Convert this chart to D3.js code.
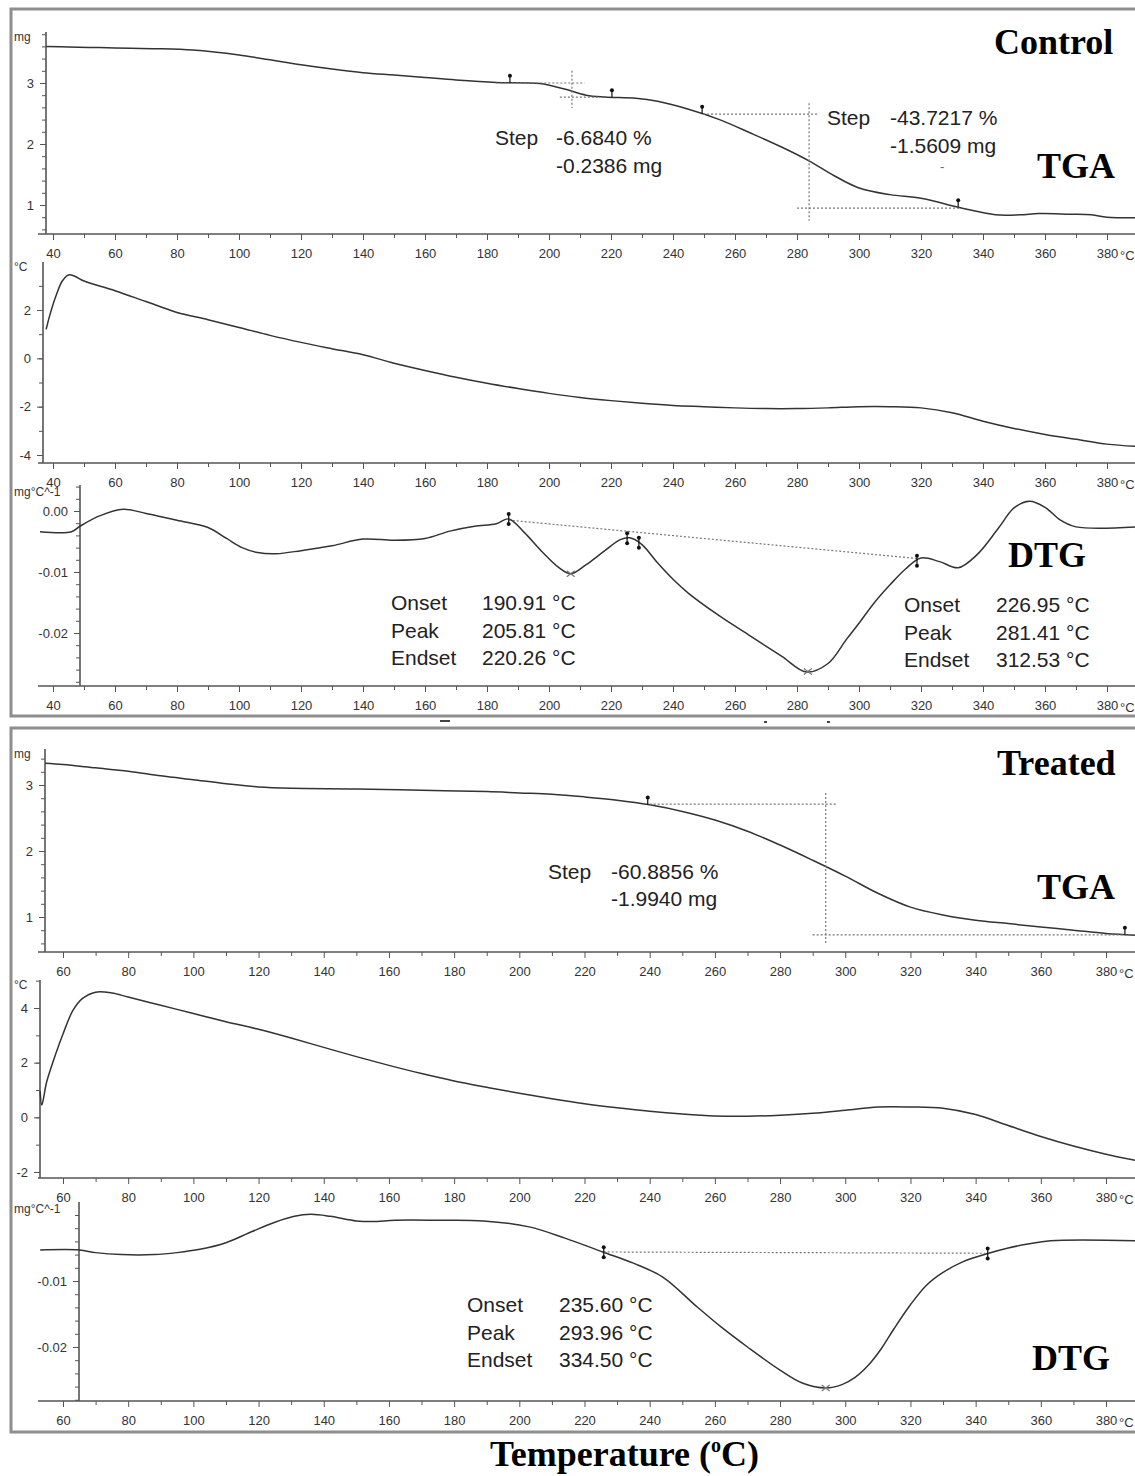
<!DOCTYPE html>
<html><head><meta charset="utf-8">
<script src="https://cdn.jsdelivr.net/npm/d3@7"></script>
<style>
body{margin:0;background:#fff}
.sans{font-family:Arial,"Liberation Sans",sans-serif}
.serif{font-family:"Liberation Serif","Times New Roman",serif;font-weight:bold}
.tick line{stroke:#555}
.tick text{fill:#333;font-size:13px;font-family:Arial,"Liberation Sans",sans-serif}
</style>
</head><body>
<svg id="c" width="1135" height="1476"></svg>
<script>
// ---------------- DATA ----------------
// [temperature °C, value]
const controlTGA = [[37.8,3.60],[45,3.59],[55,3.58],[65,3.57],[75,3.56],[85,3.54],[92,3.51],[100,3.46],[110,3.38],[120,3.30],[130,3.23],[140,3.17],[150,3.13],[160,3.09],[170,3.05],[183,3.01],[197,2.99],[205,2.90],[212,2.80],[218,2.77],[228,2.75],[235,2.70],[245,2.57],[255,2.40],[265,2.18],[275,1.95],[284,1.72],[292,1.48],[300,1.28],[310,1.17],[320,1.11],[333,0.95],[344,0.84],[352,0.84],[358,0.86],[368,0.85],[375,0.84],[380,0.80],[390,0.79]];
const controlDTA = [[37.8,1.2],[39,1.8],[41,2.6],[43,3.2],[45,3.45],[47,3.4],[50,3.2],[60,2.8],[70,2.35],[80,1.9],[90,1.6],[100,1.28],[110,0.95],[120,0.66],[130,0.4],[140,0.15],[150,-0.2],[160,-0.5],[170,-0.78],[180,-1.03],[190,-1.25],[200,-1.45],[210,-1.62],[220,-1.75],[230,-1.86],[240,-1.95],[250,-2.0],[260,-2.05],[270,-2.08],[280,-2.08],[290,-2.05],[300,-2.0],[310,-2.0],[320,-2.05],[330,-2.25],[340,-2.6],[350,-2.9],[360,-3.15],[370,-3.35],[380,-3.55],[390,-3.65]];
const controlDTG = [[35.8,-0.0034],[46,-0.0034],[48.7,-0.0025],[55,-0.0008],[62.6,0.0003],[70,-0.0004],[80,-0.0015],[90,-0.0027],[96,-0.0045],[101,-0.0060],[106,-0.0068],[112,-0.0070],[120,-0.0065],[130,-0.0057],[140,-0.0046],[150,-0.0048],[160,-0.0045],[168,-0.0033],[176,-0.0025],[183,-0.0021],[187,-0.0013],[192,-0.0035],[198,-0.0068],[203,-0.0092],[207,-0.0103],[212,-0.0088],[218,-0.0065],[223,-0.0047],[226,-0.0044],[230,-0.0055],[235,-0.0085],[240,-0.0112],[245,-0.0135],[255,-0.0172],[265,-0.0205],[275,-0.0238],[283,-0.0264],[290,-0.025],[296,-0.021],[300,-0.0184],[305,-0.015],[310,-0.0121],[315,-0.0095],[320,-0.0077],[326,-0.0083],[332,-0.0093],[338,-0.0072],[345,-0.0028],[350,0.0005],[355,0.0016],[360,0.0006],[365,-0.0015],[370,-0.0026],[390,-0.0026]];
const treatedTGA = [[54.5,3.33],[60,3.31],[70,3.26],[80,3.21],[90,3.14],[100,3.08],[110,3.02],[120,2.97],[130,2.95],[150,2.94],[170,2.92],[190,2.90],[200,2.88],[210,2.86],[220,2.82],[230,2.77],[240,2.70],[250,2.60],[260,2.47],[270,2.30],[280,2.09],[290,1.86],[300,1.62],[310,1.36],[320,1.15],[330,1.03],[340,0.95],[350,0.90],[360,0.85],[370,0.80],[380,0.75],[390,0.72]];
const treatedDTA = [[53,0.95],[53.5,0.45],[55,1.3],[58,2.4],[60,3.05],[63,3.9],[66,4.35],[70,4.58],[75,4.55],[80,4.4],[90,4.1],[100,3.8],[110,3.5],[120,3.22],[130,2.9],[140,2.56],[150,2.22],[160,1.9],[170,1.6],[180,1.33],[190,1.1],[200,0.88],[210,0.68],[220,0.5],[230,0.35],[240,0.22],[250,0.12],[260,0.05],[270,0.04],[280,0.08],[290,0.15],[300,0.26],[310,0.38],[320,0.38],[330,0.33],[340,0.1],[350,-0.3],[360,-0.7],[370,-1.05],[380,-1.35],[390,-1.6]];
const treatedDTG = [[53,-0.0053],[65,-0.0053],[70,-0.0057],[78,-0.006],[88,-0.006],[95,-0.0057],[102,-0.0052],[110,-0.0042],[118,-0.0025],[125,-0.0011],[131,-0.0002],[136,0.0001],[142,-0.0002],[150,-0.0009],[155,-0.001],[162,-0.0008],[175,-0.0008],[189,-0.0009],[203,-0.0018],[214,-0.0035],[225.6,-0.0056],[235,-0.0073],[244,-0.0094],[254.5,-0.0139],[262,-0.017],[270,-0.02],[280,-0.0235],[287,-0.0255],[294,-0.0262],[299,-0.0257],[303,-0.0246],[307,-0.0228],[311,-0.0203],[315,-0.0172],[320,-0.0136],[325,-0.0106],[330,-0.0087],[336,-0.0071],[344,-0.0058],[350,-0.005],[356,-0.0044],[363,-0.0039],[390,-0.0039]];

// annotation data
const cTgaMarkers = [187.4, 220.3, 249.4, 332];
const tTgaMarkers = [239.4, 385.8];
const cDtgMarkers = [187, 225.2, 229, 318.7];
const tDtgMarkers = [225.9, 343.7];
const cDtgPeaks = [207, 283.5];
const tDtgPeaks = [294];
const cDtgBaseline = [[187,-0.0015],[319,-0.0078]];
const tDtgBaseline = [[225.9,-0.0056],[343.7,-0.0058]];
// step construction lines: [[T1,v1],[T2,v2]]
const cStepLines = [
  [[183,3.0],[211.5,3.0]], [[207.4,3.2],[207.4,2.59]], [[203.5,2.77],[216.5,2.77]],
  [[249.7,2.49],[286.8,2.49]], [[283.9,2.67],[283.9,0.74]], [[280,0.95],[332.6,0.95]]
];
const tStepLines = [
  [[240,2.71],[297.4,2.71]], [[294,2.88],[294,0.58]], [[290,0.73],[390,0.73]]
];
const cStep1Text = ["Step","-6.6840 %","-0.2386 mg"];
const cStep2Text = ["Step","-43.7217 %","-1.5609 mg"];
const tStepText = ["Step","-60.8856 %","-1.9940 mg"];
const dtgLabels = ["Onset","Peak","Endset"];
const cDtg1Values = ["190.91 °C","205.81 °C","220.26 °C"];
const cDtg2Values = ["226.95 °C","281.41 °C","312.53 °C"];
const tDtgValues = ["235.60 °C","293.96 °C","334.50 °C"];
const controlXTicks = d3.range(40, 381, 10);
const treatedXTicks = d3.range(60, 381, 10);

// ---------------- SCALES ----------------
const svg = d3.select("#c");
const xC = d3.scaleLinear().domain([40,380]).range([53,1107]);
const xT = d3.scaleLinear().domain([60,380]).range([63,1106]);

const yCTGA = d3.scaleLinear().domain([1,3]).range([205,83]);
const yCDTA = d3.scaleLinear().domain([-4,2]).range([455,310]);
const yCDTG = d3.scaleLinear().domain([-0.02,0]).range([633,511]);
const yTTGA = d3.scaleLinear().domain([1,3]).range([917,785]);
const yTDTA = d3.scaleLinear().domain([-2,4]).range([1172,1008]);
const yTDTG = d3.scaleLinear().domain([-0.02,-0.01]).range([1347,1281]);

// frames
svg.append("rect").attr("x",11).attr("y",9).attr("width",1140).attr("height",707)
  .attr("fill","none").attr("stroke","#8e8e8e").attr("stroke-width",3);
svg.append("rect").attr("x",11).attr("y",728).attr("width",1140).attr("height",704)
  .attr("fill","none").attr("stroke","#8e8e8e").attr("stroke-width",3);
// little artefacts between frames
[[440,720,10],[764,721,3],[827,721,3]].forEach(d=>{
  svg.append("rect").attr("x",d[0]).attr("y",d[1]).attr("width",d[2]).attr("height",2).attr("fill","#444");
});

const r = (lo, hi, step) => { const a=[]; const n=Math.round((hi-lo)/step); for(let i=0;i<=n;i++) a.push(+(lo+i*step).toFixed(6)); return a; };

function panel(cfg){
  const g = svg.append("g");
  const minorX = cfg.xTicks.filter(d=>d%20!==0);
  const majorX = cfg.xTicks.filter(d=>d%20===0);
  g.append("g").attr("transform",`translate(0,${cfg.base})`)
    .call(d3.axisBottom(cfg.x).tickValues(minorX).tickSize(4).tickFormat(""))
    .call(s=>s.select(".domain").remove());
  g.append("g").attr("transform",`translate(0,${cfg.base})`)
    .call(d3.axisBottom(cfg.x).tickValues(majorX).tickSize(6).tickPadding(9).tickFormat(d=>d))
    .call(s=>s.select(".domain").remove());
  g.append("line").attr("x1",38).attr("x2",1135).attr("y1",cfg.base).attr("y2",cfg.base)
    .attr("stroke","#555").attr("stroke-width",1.6);
  g.append("text").attr("class","sans").attr("x",cfg.x(380)+13).attr("y",cfg.base+26).attr("font-size",13).attr("fill","#333").text("°C");
  const [ylo,yhi] = [cfg.y.invert(cfg.base), cfg.y.invert(cfg.top)];
  const minorY = cfg.yMinor.filter(v=>v>=ylo-1e-9 && v<=yhi+1e-9);
  g.append("g").attr("transform",`translate(${cfg.ax},0)`)
    .call(d3.axisLeft(cfg.y).tickValues(minorY).tickSize(4).tickFormat(""))
    .call(s=>s.select(".domain").remove());
  g.append("g").attr("transform",`translate(${cfg.ax},0)`)
    .call(d3.axisLeft(cfg.y).tickValues(cfg.yMajor).tickSize(6).tickPadding(6).tickFormat(cfg.fmt))
    .call(s=>s.select(".domain").remove());
  g.append("line").attr("x1",cfg.ax).attr("x2",cfg.ax).attr("y1",cfg.top).attr("y2",cfg.base)
    .attr("stroke","#555").attr("stroke-width",1.6);
  g.append("text").attr("class","sans").attr("x",14).attr("y",cfg.top+(cfg.unitDy||9)).attr("font-size",12).attr("fill","#333").text(cfg.unit);
  const line = d3.line().x(d=>cfg.x(d[0])).y(d=>cfg.y(d[1])).curve(d3.curveCatmullRom.alpha(0.5));
  g.append("path").datum(cfg.data).attr("d",line).attr("fill","none")
    .attr("stroke","#333").attr("stroke-width",1.5);
  return g;
}

function interp(data, t){
  for(let i=0;i<data.length-1;i++){
    if(t>=data[i][0] && t<=data[i+1][0]){
      const f=(t-data[i][0])/(data[i+1][0]-data[i][0]);
      return data[i][1]+f*(data[i+1][1]-data[i][1]);
    }
  }
  return data[data.length-1][1];
}
function dotted(x,y,segs){
  segs.forEach(s=>{
    svg.append("line").attr("x1",x(s[0][0])).attr("y1",y(s[0][1])).attr("x2",x(s[1][0])).attr("y2",y(s[1][1]))
      .attr("stroke","#777").attr("stroke-width",1.2).attr("stroke-dasharray","2,2");
  });
}
function pins(x,y,data,ts){
  ts.forEach(t=>{
    const px=x(t), py=y(interp(data,t));
    svg.append("line").attr("x1",px).attr("x2",px).attr("y1",py-7).attr("y2",py).attr("stroke","#111").attr("stroke-width",1.2);
    svg.append("circle").attr("cx",px).attr("cy",py-7).attr("r",2).attr("fill","#111");
  });
}
function colonMarks(x,y,data,ts){
  ts.forEach(t=>{
    const px=x(t), py=y(interp(data,t));
    svg.append("line").attr("x1",px).attr("x2",px).attr("y1",py-5).attr("y2",py+5).attr("stroke","#111").attr("stroke-width",1.2);
    svg.append("circle").attr("cx",px).attr("cy",py-5).attr("r",2).attr("fill","#111");
    svg.append("circle").attr("cx",px).attr("cy",py+5).attr("r",2).attr("fill","#111");
  });
}
function crosses(x,y,data,ts){
  ts.forEach(t=>{
    const px=x(t), py=y(interp(data,t));
    svg.append("path").attr("d",`M${px-4},${py-3}L${px+4},${py+3}M${px-4},${py+3}L${px+4},${py-3}`)
      .attr("stroke","#777").attr("stroke-width",1.2);
  });
}
function block(x0,y0,labels,values,gap,dy){
  labels.forEach((l,i)=>{
    svg.append("text").attr("class","sans").attr("x",x0).attr("y",y0+i*dy).attr("font-size",21).attr("fill","#222").text(l);
    svg.append("text").attr("class","sans").attr("x",x0+gap).attr("y",y0+i*dy).attr("font-size",21).attr("fill","#222").text(values[i]);
  });
}
function bigLabel(x,y,t){
  svg.append("text").attr("class","serif").attr("x",x).attr("y",y)
    .attr("font-size",36).attr("fill","#000").text(t);
}

// ---------------- CONTROL ----------------
const fInt = d=>String(d);
const fDtg = d=>d.toFixed(2);
panel({x:xC,y:yCTGA,ax:46,top:32,base:234,xTicks:controlXTicks,yMinor:r(0.6,3.8,0.2),yMajor:[1,2,3],fmt:fInt,unit:"mg",data:controlTGA});
panel({x:xC,y:yCDTA,ax:43,top:262,base:463,xTicks:controlXTicks,yMinor:r(-4,3,1),yMajor:[-4,-2,0,2],fmt:fInt,unit:"°C",data:controlDTA});
panel({x:xC,y:yCDTG,ax:80,top:485,base:686,xTicks:controlXTicks,yMinor:r(-0.028,0.004,0.002),yMajor:[-0.02,-0.01,0],fmt:fDtg,unit:"mg°C^-1",unitDy:11,data:controlDTG});

dotted(xC,yCTGA,cStepLines);
pins(xC,yCTGA,controlTGA,cTgaMarkers);
dotted(xC,yCDTG,[cDtgBaseline]);
colonMarks(xC,yCDTG,controlDTG,cDtgMarkers);
crosses(xC,yCDTG,controlDTG,cDtgPeaks);

block(495,145,[cStep1Text[0],""],[cStep1Text[1],cStep1Text[2]],61,28);
block(827,125,[cStep2Text[0],""],[cStep2Text[1],cStep2Text[2]],63,28);
svg.append("text").attr("class","sans").attr("x",940).attr("y",171).attr("font-size",13).attr("fill","#666").text("-");
block(391,610,dtgLabels,cDtg1Values,91,27.5);
block(904,612,dtgLabels,cDtg2Values,92,27.5);

bigLabel(994,54,"Control");
bigLabel(1037,178,"TGA");
bigLabel(1008,567,"DTG");

// ---------------- TREATED ----------------
panel({x:xT,y:yTTGA,ax:45,top:749,base:952,xTicks:treatedXTicks,yMinor:r(0.6,3.4,0.2),yMajor:[1,2,3],fmt:fInt,unit:"mg",data:treatedTGA});
panel({x:xT,y:yTDTA,ax:40,top:980,base:1178,xTicks:treatedXTicks,yMinor:r(-2,5,1),yMajor:[-2,0,2,4],fmt:fInt,unit:"°C",data:treatedDTA});
panel({x:xT,y:yTDTG,ax:79,top:1202,base:1401,xTicks:treatedXTicks,yMinor:r(-0.028,0.002,0.002),yMajor:[-0.02,-0.01],fmt:fDtg,unit:"mg°C^-1",unitDy:11,data:treatedDTG});

dotted(xT,yTTGA,tStepLines);
pins(xT,yTTGA,treatedTGA,tTgaMarkers);
dotted(xT,yTDTG,[tDtgBaseline]);
colonMarks(xT,yTDTG,treatedDTG,tDtgMarkers);
crosses(xT,yTDTG,treatedDTG,tDtgPeaks);

block(548,879,[tStepText[0],""],[tStepText[1],tStepText[2]],63,27);
block(467,1312,dtgLabels,tDtgValues,92,27.5);

bigLabel(997,775,"Treated");
bigLabel(1037,899,"TGA");
bigLabel(1032,1370,"DTG");

// axis title
const tt = svg.append("text").attr("class","serif").attr("x",490).attr("y",1466)
  .attr("font-size",36).attr("fill","#000");
tt.append("tspan").text("Temperature (");
tt.append("tspan").attr("font-size",20).attr("dy",-14).text("o");
tt.append("tspan").attr("dy",14).text("C)");
</script>
</body></html>
